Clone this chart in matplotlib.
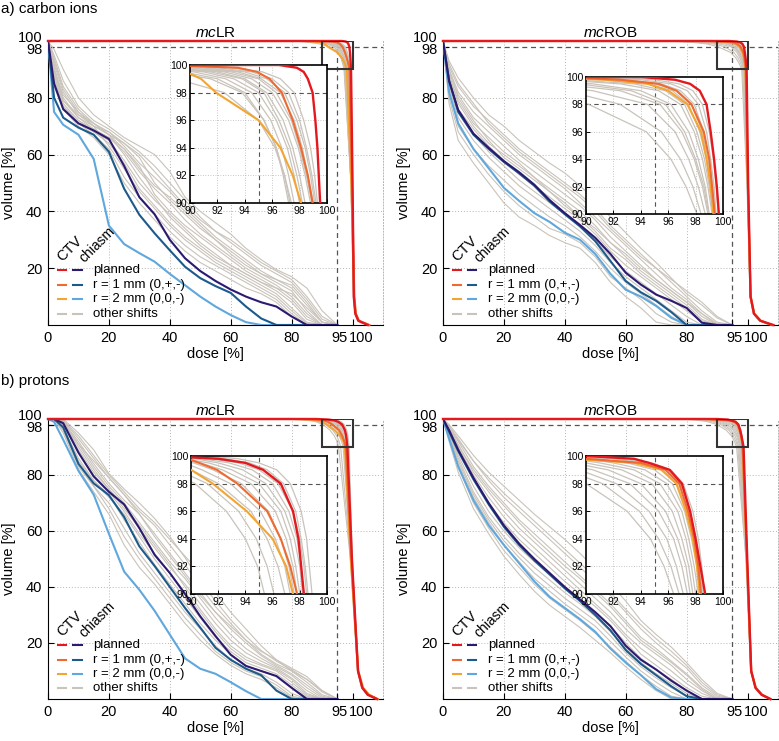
import matplotlib
matplotlib.use('Agg')
import matplotlib.pyplot as plt
from matplotlib.patches import Rectangle
from matplotlib.transforms import ScaledTranslation

plt.rcParams['font.family'] = ['Liberation Sans', 'DejaVu Sans']
plt.rcParams['mathtext.fontset'] = 'custom'
plt.rcParams['mathtext.rm'] = 'Liberation Sans'
plt.rcParams['mathtext.it'] = 'Liberation Sans:italic'

# chiasm DVHs: volume [%] read at these doses [%]
DOSE_CH = [0, 2, 5, 10, 15, 20, 25, 30, 35, 40, 45, 50, 55, 60, 65, 70, 75, 80, 85, 90, 95]
# CTV DVHs: dose [%] read at these volumes [%]
VOL_CTV = [100, 100, 99.8, 99.5, 99, 98, 96, 94, 92, 90, 50, 10, 4, 1.5, 0]

# ---------------- a) carbon ions, mcLR ----------------
CH_PLAN_C_LR = [100, 85, 76, 71, 68.5, 65.5, 56, 45, 39, 30, 23.5, 19, 15.5, 12.5, 10, 8, 6.5, 3, 0, 0, 0]
CH_R1_C_LR = [100, 80, 73, 69.5, 67, 61, 48, 38.8, 32.3, 26.3, 20.5, 16.5, 13.7, 11.3, 6.5, 2.3, 0, 0, 0, 0, 0]
CH_R2_C_LR = [100, 75, 70.5, 67, 58.5, 35, 28.5, 25.3, 22.3, 18, 14, 10, 6.5, 3.5, 1, 0, 0, 0, 0, 0, 0]
CH_GREY_C_LR = [
    [100, 97, 90, 80, 74, 70, 66, 63, 60, 54, 45, 40, 36, 32, 27, 23, 19.5, 17, 13, 5, 0],
    [100, 95, 86, 77, 72, 69, 65, 61, 56, 50, 44, 38, 33, 29, 25, 21, 18, 15, 9, 2, 0],
    [100, 94, 84, 76, 71, 68, 63, 57, 52, 47, 41, 36, 31, 27, 23, 19, 16, 13, 7, 1, 0],
    [100, 92, 82, 74, 70, 67, 64, 59, 50, 44, 39, 34, 30, 26, 22, 18, 15, 12, 5, 0, 0],
    [100, 90, 80, 73, 69, 66, 61, 54, 48, 43, 37, 32, 28, 24, 20, 17, 14, 10, 4, 0, 0],
    [100, 88, 78, 72, 69, 66, 62, 56, 46, 40, 35, 31, 27, 23, 19, 16, 13, 9, 3, 0, 0],
    [100, 87, 77, 72, 68, 65, 58, 50, 44, 39, 34, 29, 25, 21, 18, 15, 12, 8, 2, 0, 0],
    [100, 86, 77, 71, 68, 64, 57, 48, 42, 36, 31, 27, 23, 20, 17, 14, 11, 6, 1, 0, 0],
    [100, 90, 81, 75, 70, 63, 55, 47, 41, 35, 30, 26, 22, 19, 16, 13, 10, 5, 0.5, 0, 0],
    [100, 84, 76, 71, 67, 62, 52, 45, 39, 33, 28, 24, 21, 18, 15, 12, 9, 4, 0, 0, 0],
    [100, 93, 83, 75, 71, 67, 62, 55, 49, 45, 40, 35, 30, 25, 21, 18, 16, 14, 8, 1, 0],
    [100, 85, 76, 70, 66, 60, 50, 43, 37, 31, 26, 22, 19, 16, 13, 11, 8, 3, 0, 0, 0],
    [100, 91, 79, 73, 70, 68, 64, 60, 54, 48, 42, 37, 33, 30, 26, 22, 19, 16, 10, 3, 0],
    [100, 89, 79, 74, 71, 67, 60, 52, 45, 38, 33, 28, 24, 21, 18, 15, 13, 11, 6, 1, 0],
]
CTV_PLAN_C_LR = [0, 96.5, 97.8, 98.3, 98.6, 98.95, 99.15, 99.3, 99.4, 99.5, 100.0, 100.4, 100.9, 101.9, 105]
CTV_R1_C_LR = [0, 88, 93.5, 94.9, 95.8, 96.7, 97.5, 98.1, 98.6, 98.95, 99.8, 100.6, 101.1, 102.1, 105.5]
CTV_R2_C_LR = [0, 84, 87, 89.7, 90.8, 91.9, 95.0, 96.6, 97.5, 98.1, 99.6, 100.5, 101.0, 102.0, 105.5]
CTV_GREY_C_LR = [
    [0, 89, 92, 94.5, 96, 97.2, 98.0, 98.5, 98.9, 99.2, 99.9, 100.6, 101.1, 102.0, 105],
    [0, 88, 91, 93.5, 95.2, 96.6, 97.6, 98.2, 98.6, 99.0, 99.8, 100.5, 101.0, 101.9, 105],
    [0, 86, 90, 92.5, 94.5, 96.0, 97.2, 97.9, 98.4, 98.8, 99.8, 100.5, 101.0, 101.9, 105],
    [0, 85, 89, 92, 94, 95.6, 96.8, 97.5, 98.0, 98.4, 99.7, 100.5, 101.0, 101.9, 105],
    [0, 84, 88, 91, 93.2, 95, 96.3, 97.1, 97.6, 98.0, 99.6, 100.4, 100.9, 101.8, 105],
    [0, 83, 87, 90.3, 92.6, 94.5, 95.9, 96.7, 97.2, 97.6, 99.5, 100.4, 100.9, 101.8, 105],
    [0, 82, 86, 89.5, 92, 94, 95.4, 96.3, 96.8, 97.2, 99.5, 100.4, 100.9, 101.8, 105],
    [0, 90, 93, 95.3, 96.6, 97.6, 98.3, 98.8, 99.1, 99.3, 99.9, 100.6, 101.1, 102.0, 105],
    [0, 87, 91, 94, 95.6, 96.9, 97.8, 98.4, 98.8, 99.1, 99.9, 100.5, 101.0, 101.9, 105],
    [0, 84, 88.5, 91.5, 93.8, 95.4, 96.5, 97.3, 97.8, 98.2, 99.7, 100.5, 101.0, 101.9, 105],
    [0, 86, 90, 93, 95, 96.3, 97.4, 98.0, 98.5, 98.9, 99.8, 100.5, 101.0, 101.9, 105],
    [0, 82, 85, 88.5, 91.5, 93.8, 95.4, 96.3, 96.9, 97.3, 99.5, 100.3, 100.8, 101.7, 105],
    [0, 80, 83, 86, 89, 92.5, 95, 96.2, 96.9, 97.4, 99.5, 100.3, 100.8, 101.7, 105],
]

# ---------------- a) carbon ions, mcROB ----------------
CH_PLAN_C_ROB = [100, 86, 75.7, 67.4, 62.4, 57.7, 53.8, 49.4, 44, 39.4, 35.2, 30.7, 25, 18.4, 14.2, 10.7, 8.5, 6, 0.8, 0, 0]
CH_R1_C_ROB = [100, 86, 75, 67, 62, 57.4, 53.4, 49, 43.5, 39, 34.7, 29.5, 22.5, 15.5, 11.5, 8.5, 4.5, 0, 0, 0, 0]
CH_R2_C_ROB = [100, 82, 71, 62, 55.2, 48.3, 43.7, 39.4, 36.3, 32.5, 30, 25, 18, 12.4, 10, 6.7, 2.5, 0, 0, 0, 0]
CH_GREY_C_ROB = [
    [100, 93, 87, 80, 74, 70, 65, 61, 57, 53.5, 49, 44, 38, 32.5, 27, 22, 16.5, 11, 7, 2.5, 0],
    [100, 91, 84, 77, 72, 67, 62, 58, 54, 50, 46, 41, 35, 30, 25, 20, 15, 10, 5, 1, 0],
    [100, 90, 82, 75, 70, 65, 60, 56, 52, 48, 43, 38, 33, 28, 23, 18, 13, 9, 4, 0, 0],
    [100, 89, 81, 73, 68, 63, 58, 54, 50, 46, 42, 37, 31, 26, 21, 16, 12, 8, 3, 0, 0],
    [100, 88, 79, 71, 66, 61, 57, 52, 48, 44, 40, 35, 29, 24, 19, 15, 11, 7, 2, 0, 0],
    [100, 90, 80, 72, 65, 59, 55, 51, 47, 43, 38, 33, 27, 23, 18, 14, 10, 6, 1.5, 0, 0],
    [100, 86, 76, 69, 63, 58, 53, 49, 45, 41, 37, 32, 26, 21, 17, 13, 9, 5, 1, 0, 0],
    [100, 85, 75, 67, 61, 56, 51, 47, 43, 39, 35, 30, 24, 19, 15, 11, 7, 3, 0, 0, 0],
    [100, 84, 73, 65, 59, 54, 49, 45, 41, 37, 33, 28, 22, 17, 13, 9, 5, 1, 0, 0, 0],
    [100, 82, 70, 62, 56, 51, 46, 42, 38, 35, 31, 26, 20, 15, 11, 7, 3, 0, 0, 0, 0],
    [100, 80, 68, 60, 53, 47, 42, 38, 34, 32, 29, 24, 17, 13, 9, 4, 1, 0, 0, 0, 0],
    [100, 78, 65, 57, 50, 43, 38, 35, 31.5, 29, 27, 22, 15, 10, 6, 1, 0, 0, 0, 0, 0],
    [100, 92, 85, 78, 71, 66, 61, 57, 53, 49, 45, 40, 34, 29, 24, 20, 16, 12, 8, 3, 0],
    [100, 88, 78, 70, 64, 60, 56, 52, 47, 42, 38, 34, 29, 25, 20, 16, 12, 8, 4, 0.5, 0],
]
CTV_PLAN_C_ROB = [0, 94, 96.5, 97.6, 98.3, 98.8, 99.1, 99.35, 99.55, 99.7, 100.2, 101, 102.1, 104.2, 108.5]
CTV_R1_C_ROB = [0, 88, 92.5, 95.3, 96.6, 97.7, 98.6, 99.0, 99.2, 99.4, 100.1, 101, 102.2, 104.3, 108]
CTV_R2_C_ROB = [0, 86, 91.5, 94.5, 96.0, 97.4, 98.4, 98.8, 99.1, 99.3, 100.1, 101, 102.2, 104.3, 108]
CTV_GREY_C_ROB = [
    [0, 92, 95, 96.8, 97.8, 98.5, 99.0, 99.3, 99.5, 99.65, 100.1, 101, 102.1, 104.2, 108],
    [0, 90, 94, 96.2, 97.4, 98.2, 98.8, 99.1, 99.35, 99.5, 100.1, 101, 102.1, 104.2, 108],
    [0, 88, 93, 95.5, 96.9, 97.9, 98.6, 99.0, 99.25, 99.4, 100.0, 101, 102.1, 104.2, 108],
    [0, 85, 91, 94.5, 96.3, 97.5, 98.3, 98.8, 99.1, 99.3, 100.0, 101, 102.1, 104.2, 108],
    [0, 82, 88, 92.5, 95.3, 96.9, 97.9, 98.5, 98.9, 99.2, 100.0, 100.9, 102.0, 104.1, 108],
    [0, 80, 85, 90.5, 94, 96.2, 97.5, 98.2, 98.7, 99.0, 100.0, 100.9, 102.0, 104.0, 108],
    [0, 78, 83, 88, 92.5, 95.4, 97.0, 97.9, 98.5, 98.9, 99.9, 100.9, 102.0, 104.0, 107.5],
    [0, 76, 81, 86, 90.5, 94.5, 96.5, 97.5, 98.2, 98.7, 99.9, 100.8, 101.9, 103.9, 107.5],
    [0, 74, 79, 84, 88.5, 92.5, 95.5, 96.9, 97.8, 98.4, 99.9, 100.8, 101.9, 103.9, 107.5],
    [0, 72, 77, 82, 86.5, 90.2, 94.4, 96.2, 97.3, 98.1, 99.8, 100.8, 101.9, 103.8, 107.5],
    [0, 86, 92, 95.0, 96.7, 97.7, 98.5, 98.9, 99.2, 99.35, 100.0, 101, 102.1, 104.2, 108],
    [0, 83, 89, 93.5, 95.8, 97.2, 98.1, 98.65, 99.0, 99.25, 100.0, 101, 102.1, 104.2, 108],
    [0, 79, 84, 89.5, 93.3, 95.8, 97.2, 98.0, 98.6, 98.95, 99.9, 100.9, 102.0, 104.0, 108],
]

# ---------------- b) protons, mcLR ----------------
CH_PLAN_P_LR = [100, 100, 98.5, 88, 79.5, 74, 69.5, 61, 51.5, 45, 37.5, 29.5, 22.5, 15.8, 11.8, 10, 8.2, 4, 0, 0, 0]
CH_R1_P_LR = [100, 100, 97, 84, 77, 72.8, 65, 54.5, 47.5, 40, 32.5, 25.5, 18.3, 14, 10.8, 8.5, 3, 0, 0, 0, 0]
CH_R2_P_LR = [100, 99, 92.6, 81.5, 73, 59, 45.5, 39, 31.5, 23, 14.5, 10.8, 9, 6, 2.8, 0, 0, 0, 0, 0, 0]
CH_GREY_P_LR = [
    [100, 100, 100, 95, 89, 80.5, 75, 70, 64.5, 58, 50.5, 42, 35, 28.3, 22.5, 17.3, 13.5, 10.5, 7, 2.5, 0],
    [100, 100, 99.5, 93, 86, 79, 73, 67, 62, 55, 48, 40, 33, 27, 21, 16, 12.5, 10, 6, 1.5, 0],
    [100, 100, 99, 92, 84, 77, 71, 66, 59, 52, 45, 38, 31, 25, 20, 15.5, 12, 9, 5, 1, 0],
    [100, 100, 99, 91, 83, 76, 70, 63, 56, 49, 43, 36, 29, 23, 18, 14.5, 11.5, 8.5, 4, 0.5, 0],
    [100, 100, 98.5, 90, 82, 75, 68, 61, 54, 47, 41, 34, 27, 21, 16.5, 13.5, 11, 7.5, 3, 0, 0],
    [100, 100, 98, 89, 81, 75, 69, 62, 55, 48, 40, 32, 25, 19, 15, 12.5, 10.5, 7, 2, 0, 0],
    [100, 100, 98, 88, 80, 74, 67, 59, 52, 45, 38, 31, 24, 18, 14, 12, 10, 6, 1.5, 0, 0],
    [100, 100, 97, 86, 78, 72, 66, 58, 50, 43, 36, 29, 22, 17, 13, 11, 9, 5, 1, 0, 0],
    [100, 100, 97, 85, 78, 73, 64, 56, 48, 41, 34, 27, 21, 16, 12, 10, 8, 4, 0.5, 0, 0],
    [100, 100, 96, 84, 76, 70, 61, 52, 45, 38, 31, 25, 19, 14, 11, 9, 6, 2, 0, 0, 0],
    [100, 100, 96, 83, 76, 68, 58, 50, 43, 36, 29, 23, 17, 13, 10, 8, 5, 1, 0, 0, 0],
    [100, 100, 95, 82, 74, 66, 55, 47, 41, 34, 27, 21, 16, 12, 9, 7, 4, 0.5, 0, 0, 0],
    [100, 100, 99.5, 94, 87, 80, 74, 68, 63, 57, 51, 45, 38, 31, 25, 19, 14, 10, 7, 3, 0],
    [100, 100, 98.5, 91, 85, 79, 73, 66, 58, 51, 44, 37, 31, 26, 21, 17, 14, 11, 8, 3, 0],
]
CTV_PLAN_P_LR = [0, 88, 92, 94, 95.3, 96.6, 97.5, 97.9, 98.1, 98.3, 99.8, 101.8, 103.2, 105.0, 108]
CTV_R1_P_LR = [0, 85, 89.8, 90.6, 91.9, 93.4, 95.6, 96.6, 97.3, 97.8, 99.6, 101.8, 103.3, 105.2, 108]
CTV_R2_P_LR = [0, 80, 86, 88, 90, 91.6, 94.1, 96, 97, 97.5, 99.4, 101.9, 103.5, 105.5, 108.3]
CTV_GREY_P_LR = [
    [0, 90, 92.5, 94.3, 95.6, 96.8, 97.7, 98.1, 98.4, 98.6, 99.9, 101.9, 103.3, 105.1, 108],
    [0, 89, 91.5, 93.5, 95.0, 96.4, 97.5, 98.0, 98.3, 98.5, 99.8, 101.9, 103.3, 105.1, 108],
    [0, 88, 90.8, 92.8, 94.5, 96.0, 97.2, 97.8, 98.1, 98.3, 99.8, 101.8, 103.2, 105.0, 108],
    [0, 87, 90.3, 92.0, 93.8, 95.5, 96.9, 97.6, 98.0, 98.2, 99.7, 101.8, 103.2, 105.0, 108],
    [0, 86, 89.5, 91.3, 93.0, 95.0, 96.6, 97.3, 97.7, 98.0, 99.7, 101.8, 103.2, 105.0, 108],
    [0, 85, 89, 90.7, 92.3, 94.4, 96.2, 97.0, 97.5, 97.8, 99.7, 101.8, 103.2, 105.0, 108],
    [0, 84, 88, 90.2, 91.6, 93.7, 95.7, 96.6, 97.2, 97.6, 99.6, 101.7, 103.1, 104.9, 108],
    [0, 83, 87, 89.5, 90.8, 92.9, 95.1, 96.2, 96.9, 97.3, 99.6, 101.7, 103.1, 104.9, 108],
    [0, 82, 86, 88.5, 90.0, 92.0, 94.4, 95.6, 96.4, 96.9, 99.5, 101.7, 103.1, 104.9, 108],
    [0, 80, 84, 87, 89.0, 91.2, 93.5, 94.8, 95.6, 96.1, 99.4, 101.6, 103.0, 104.8, 108],
    [0, 78, 82, 85.5, 88, 90.3, 92.6, 94.0, 94.9, 95.4, 99.3, 101.6, 103.0, 104.8, 108],
    [0, 91, 93.5, 95.0, 96.3, 97.3, 98.1, 98.5, 98.7, 98.9, 99.9, 101.9, 103.3, 105.1, 108],
]

# ---------------- b) protons, mcROB ----------------
CH_PLAN_P_ROB = [100, 96, 89, 79, 70, 62, 55.5, 50, 45, 40, 35.5, 31, 26, 19, 14, 10.5, 6.5, 3, 0, 0, 0]
CH_R1_P_ROB = [100, 95.5, 88.5, 78.5, 69.5, 61.5, 55, 49.5, 44.5, 39.5, 35, 30, 24.5, 17.5, 12.5, 8.5, 4.5, 1, 0, 0, 0]
CH_R2_P_ROB = [100, 93, 83, 71, 62, 55, 48.5, 42, 36.5, 32.5, 28.5, 24, 18, 13, 8.5, 3.5, 0.5, 0, 0, 0, 0]
CH_GREY_P_ROB = [
    [100, 98, 94, 87, 81, 76, 71, 66, 61.5, 57, 52, 46.5, 41, 35, 28, 23, 18.5, 13, 7, 2, 0],
    [100, 97.5, 93, 85, 78, 72, 67, 62, 57, 52, 47, 42, 37, 31, 25, 20, 15.5, 11, 5, 1, 0],
    [100, 97, 92, 83, 76, 70, 64, 59, 54, 49, 44, 39, 34, 28, 22, 18, 13.5, 9, 4, 0.5, 0],
    [100, 96.5, 91, 81, 74, 67, 61, 56, 51, 46, 41, 36, 31, 25, 20, 16, 12, 7, 3, 0, 0],
    [100, 96, 90, 80, 72, 65, 59, 54, 49, 44, 39, 34, 29, 23, 18, 14, 10, 5.5, 2, 0, 0],
    [100, 95.5, 89, 78, 70, 63, 57, 52, 47, 42, 37.5, 33, 28, 22, 16, 12, 8, 4, 1, 0, 0],
    [100, 95, 87, 76, 67, 60, 54, 49, 44.5, 40, 35.5, 31, 26, 20, 14.5, 10.5, 7, 3, 0, 0, 0],
    [100, 94.5, 86, 74, 65, 58, 52, 47, 42.5, 38, 34, 29.5, 24, 18, 13, 9, 5.5, 2, 0, 0, 0],
    [100, 94, 85, 73, 64, 56.5, 50.5, 45, 40.5, 36, 32, 28, 22.5, 16.5, 11.5, 7.5, 4, 1, 0, 0, 0],
    [100, 93.5, 84, 72, 63, 55, 49, 43, 38.5, 34, 30, 26, 20.5, 15, 10, 6, 2.5, 0, 0, 0, 0],
    [100, 93, 83, 70, 61, 53, 47, 41, 36, 32, 28, 23.5, 18.5, 13.5, 8.5, 4.5, 1, 0, 0, 0, 0],
    [100, 92, 81, 68, 59, 51, 44.5, 38.5, 33.5, 29.5, 25.5, 21, 16.5, 11.5, 7, 3, 0, 0, 0, 0, 0],
    [100, 97, 92.5, 85, 79, 73.5, 68.5, 63.5, 58.5, 53.5, 48.5, 43.5, 38, 32, 26.5, 21.5, 17, 12, 6, 1.5, 0],
    [100, 96, 90.5, 82, 75, 69, 63, 57.5, 52.5, 47.5, 43, 38, 33, 27, 21, 17, 13, 8.5, 3.5, 0, 0],
]
CTV_PLAN_P_ROB = [0, 90, 93.5, 94.6, 96.1, 97.0, 97.6, 98.0, 98.35, 98.7, 99.9, 101.2, 102.6, 104.6, 107.5]
CTV_R1_P_ROB = [0, 87, 90, 94, 95.8, 96.8, 97.45, 97.9, 98.2, 98.4, 99.8, 101.2, 102.7, 104.8, 107.5]
CTV_R2_P_ROB = [0, 86, 89, 93.5, 95.5, 96.6, 97.3, 97.8, 98.1, 98.3, 99.8, 101.2, 102.7, 104.8, 107.5]
CTV_GREY_P_ROB = [
    [0, 89, 92, 94, 95.6, 96.6, 97.4, 97.9, 98.25, 98.5, 99.8, 101.2, 102.7, 104.7, 107.5],
    [0, 88, 91, 93, 95, 96.3, 97.2, 97.7, 98.1, 98.4, 99.8, 101.2, 102.7, 104.7, 107.5],
    [0, 87, 90, 92, 94.3, 95.9, 97.0, 97.5, 97.9, 98.2, 99.7, 101.2, 102.7, 104.7, 107.5],
    [0, 86, 89, 91, 93.5, 95.4, 96.7, 97.3, 97.7, 98.0, 99.7, 101.2, 102.7, 104.7, 107.5],
    [0, 85, 88, 90, 92.6, 94.8, 96.3, 97.0, 97.5, 97.8, 99.7, 101.1, 102.6, 104.6, 107.5],
    [0, 84, 87, 89, 91.6, 94.0, 95.8, 96.7, 97.3, 97.6, 99.6, 101.1, 102.6, 104.6, 107.5],
    [0, 83, 86, 88, 90.5, 93.2, 95.3, 96.4, 97.0, 97.4, 99.6, 101.1, 102.6, 104.6, 107.5],
    [0, 82, 85, 87, 89.5, 92.2, 94.6, 95.9, 96.6, 97.1, 99.6, 101.1, 102.6, 104.6, 107.5],
    [0, 80, 83, 86, 88.5, 91.2, 93.9, 95.3, 96.2, 96.8, 99.5, 101.0, 102.5, 104.5, 107.5],
    [0, 90, 93, 94.8, 96.2, 97.1, 97.8, 98.2, 98.45, 98.65, 99.9, 101.2, 102.7, 104.7, 107.5],
    [0, 89.5, 92.5, 94.5, 96, 96.9, 97.6, 98.05, 98.35, 98.55, 99.8, 101.2, 102.7, 104.7, 107.5],
    [0, 78, 81, 84, 87, 90, 93, 94.7, 95.7, 96.4, 99.5, 101.0, 102.5, 104.5, 107.5],
]

LEGEND_LABELS = ['planned', 'r = 1 mm (0,+,-)', 'r = 2 mm (0,0,-)', 'other shifts']

C_RED = '#e3191f'
C_ORANGE = '#ee6a30'
C_YELLOW = '#f3a533'
C_PURPLE = '#2b1a70'
C_DBLUE = '#1d5a8c'
C_LBLUE = '#5fa7dc'
C_GREY = '#c9c3ba'
C_DASH = '#555555'
C_DOT = '#b5b5b5'

W, H = 779, 741


def px_rect(l, t, r, b):
    return [l / W, 1 - b / H, (r - l) / W, (b - t) / H]


def nudge(label, fig, dx, dy):
    label.set_transform(label.get_transform() +
                        ScaledTranslation(dx / 100, dy / 100, fig.dpi_scale_trans))


def draw_panel(fig, box, inset_box, name, ch, ctv):
    grey_ch, plan_ch, r1_ch, r2_ch = ch
    grey_ctv, plan_ctv, r1_ctv, r2_ctv = ctv

    ax = fig.add_axes(px_rect(*box))
    for g in [20, 40, 60, 80]:
        ax.axvline(g, color=C_DOT, lw=0.7, ls=(0, (1, 2)), zorder=0)
        ax.axhline(g, color=C_DOT, lw=0.7, ls=(0, (1, 2)), zorder=0)

    for v in grey_ch:
        ax.plot(DOSE_CH, v, color=C_GREY, lw=0.8, zorder=2)
    for d in grey_ctv:
        ax.plot(d, VOL_CTV, color=C_GREY, lw=0.8, zorder=2)
    ax.plot(DOSE_CH, r2_ch, color=C_LBLUE, lw=1.5, zorder=3)
    ax.plot(DOSE_CH, r1_ch, color=C_DBLUE, lw=1.5, zorder=3)
    ax.plot(DOSE_CH, plan_ch, color=C_PURPLE, lw=1.5, zorder=3)
    ax.plot(r2_ctv, VOL_CTV, color=C_YELLOW, lw=1.5, zorder=3, clip_on=False)
    ax.plot(r1_ctv, VOL_CTV, color=C_ORANGE, lw=1.5, zorder=3, clip_on=False)
    ax.plot(plan_ctv, VOL_CTV, color=C_RED, lw=1.7, zorder=4, clip_on=False)

    ax.axhline(98, color=C_DASH, lw=0.9, ls=(0, (4, 3)), zorder=1)
    ax.axvline(95, color=C_DASH, lw=0.9, ls=(0, (4, 3)), zorder=1)
    ax.add_patch(Rectangle((90, 90), 10, 10, fill=False, ec='#333333', lw=1.5, zorder=6))

    ax.set_xlim(0, 110)
    ax.set_ylim(0, 100)
    ax.set_xticks([0, 20, 40, 60, 80, 95, 100])
    ax.set_xticklabels(['0', '20', '40', '60', '80', '95', '100'])
    ax.set_yticks([20, 40, 60, 80, 98, 100])
    ax.set_yticklabels(['20', '40', '60', '80', '98', '100'])
    ax.tick_params(direction='in', length=4, width=0.8, labelsize=10.5, pad=4)
    xl = ax.get_xticklabels()
    nudge(xl[5], fig, 2, 0)
    nudge(xl[6], fig, 9, 0)
    yl = ax.get_yticklabels()
    nudge(yl[4], fig, 0, -2)
    nudge(yl[5], fig, 0, 5)
    ax.spines['top'].set_visible(False)
    ax.spines['right'].set_color(C_DOT)
    ax.spines['right'].set_linestyle((0, (1, 2)))
    ax.spines['right'].set_linewidth(0.7)
    ax.set_xlabel('dose [%]', fontsize=10.5, labelpad=2)
    ax.set_ylabel('volume [%]', fontsize=10.5, labelpad=1)
    ax.set_title(r'$\mathit{mc}$' + name, fontsize=11, pad=3)

    # legend: CTV and chiasm handles side by side
    rows = [(C_RED, C_PURPLE), (C_ORANGE, C_DBLUE), (C_YELLOW, C_LBLUE), (C_GREY, C_GREY)]
    for i, (lab, (c1, c2)) in enumerate(zip(LEGEND_LABELS, rows)):
        y = 0.192 - i * 0.051
        ax.plot([0.031, 0.053], [y, y], color=c1, lw=1.5, transform=ax.transAxes, zorder=7)
        ax.plot([0.075, 0.100], [y, y], color=c2, lw=1.5, transform=ax.transAxes, zorder=7)
        ax.text(0.134, y, lab, fontsize=9.5, va='center', ha='left', transform=ax.transAxes, zorder=7)
    ax.text(0.066, 0.268, 'CTV', fontsize=10.5, rotation=45, ha='center', va='center',
            transform=ax.transAxes)
    ax.text(0.148, 0.282, 'chiasm', fontsize=10, rotation=45, ha='center', va='center',
            transform=ax.transAxes)

    # zoomed inset
    ins = fig.add_axes(px_rect(*inset_box))
    for g in [92, 94, 96, 98]:
        ins.axvline(g, color=C_DOT, lw=0.6, ls=(0, (1, 2)), zorder=0)
    for g in [92, 94, 96]:
        ins.axhline(g, color=C_DOT, lw=0.6, ls=(0, (1, 2)), zorder=0)
    ins.axhline(98, color=C_DASH, lw=0.8, ls=(0, (4, 3)), zorder=1)
    ins.axvline(95, color=C_DASH, lw=0.8, ls=(0, (4, 3)), zorder=1)
    for d in grey_ctv:
        ins.plot(d, VOL_CTV, color=C_GREY, lw=0.9, zorder=2)
    ins.plot(r2_ctv, VOL_CTV, color=C_YELLOW, lw=1.5, zorder=3)
    ins.plot(r1_ctv, VOL_CTV, color=C_ORANGE, lw=1.5, zorder=3)
    ins.plot(plan_ctv, VOL_CTV, color=C_RED, lw=1.7, zorder=4)
    ins.set_xlim(90, 100)
    ins.set_ylim(90, 100)
    ins.set_xticks([90, 92, 94, 96, 98, 100])
    ins.set_yticks([90, 92, 94, 96, 98, 100])
    ins.tick_params(direction='in', length=3, width=0.7, labelsize=7.5, pad=2)
    for s in ins.spines.values():
        s.set_linewidth(1.2)


fig = plt.figure(figsize=(W / 100, H / 100), dpi=100)

draw_panel(fig, (48, 41, 383, 325), (190, 65, 327, 203), 'LR',
           (CH_GREY_C_LR, CH_PLAN_C_LR, CH_R1_C_LR, CH_R2_C_LR),
           (CTV_GREY_C_LR, CTV_PLAN_C_LR, CTV_R1_C_LR, CTV_R2_C_LR))
draw_panel(fig, (443, 41, 778, 325), (586, 77, 723, 214), 'ROB',
           (CH_GREY_C_ROB, CH_PLAN_C_ROB, CH_R1_C_ROB, CH_R2_C_ROB),
           (CTV_GREY_C_ROB, CTV_PLAN_C_ROB, CTV_R1_C_ROB, CTV_R2_C_ROB))
draw_panel(fig, (48, 419, 383, 699), (191, 456, 327, 594), 'LR',
           (CH_GREY_P_LR, CH_PLAN_P_LR, CH_R1_P_LR, CH_R2_P_LR),
           (CTV_GREY_P_LR, CTV_PLAN_P_LR, CTV_R1_P_LR, CTV_R2_P_LR))
draw_panel(fig, (443, 419, 778, 699), (586, 456, 723, 594), 'ROB',
           (CH_GREY_P_ROB, CH_PLAN_P_ROB, CH_R1_P_ROB, CH_R2_P_ROB),
           (CTV_GREY_P_ROB, CTV_PLAN_P_ROB, CTV_R1_P_ROB, CTV_R2_P_ROB))

fig.text(1 / W, 1 - 9 / H, 'a) carbon ions', fontsize=11, va='center', ha='left')
fig.text(1 / W, 1 - 381 / H, 'b) protons', fontsize=11, va='center', ha='left')

fig.savefig('out.png', dpi=100)
